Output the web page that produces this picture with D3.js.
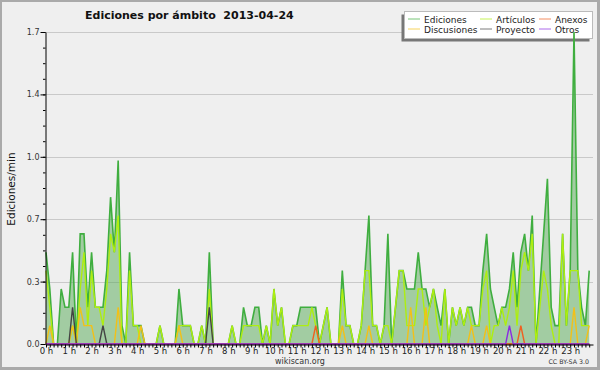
<!DOCTYPE html>
<html>
<head>
<meta charset="utf-8" />
<style>
  body { margin: 0; background: #efefef; }
  svg { display: block; }
  text { font-family: "DejaVu Sans", sans-serif; }
</style>
</head>
<body>
<svg id="chart" width="600" height="370"></svg>
<script src="https://cdn.jsdelivr.net/npm/d3@7"></script>
<script>
// edits per minute, one value per 10-minute slot (144 slots, 12 per row = 2 hours)
var ediciones = [
  0.5,0.3,0,0,0.3,0.2,0.2,0.5,0,0.6,0.6,0.2,
  0.5,0.2,0.2,0.2,0.4,0.8,0.5,1.0,0.1,0,0.5,0.1,
  0.1,0.1,0,0,0,0,0.1,0,0,0,0,0.3,
  0.1,0.1,0.1,0,0,0.1,0,0.5,0,0,0,0,
  0,0.1,0,0,0.2,0.1,0.1,0.2,0.2,0,0.1,0,
  0.3,0.1,0.2,0,0,0.1,0.1,0.2,0.2,0.2,0.2,0.2,
  0,0.1,0.2,0,0,0,0.4,0.1,0.1,0,0,0.1,
  0.4,0.7,0.1,0.1,0,0.1,0.6,0,0.2,0.4,0.4,0.3,
  0.3,0.3,0.5,0.3,0.3,0.2,0.3,0.2,0.1,0.3,0,0.2,
  0.1,0.2,0.1,0.2,0.2,0.1,0.1,0.4,0.6,0.3,0.2,0.1,
  0.2,0.2,0.3,0.5,0.2,0.5,0.6,0.4,0.7,0,0.3,0.6,
  0.9,0.2,0.1,0.1,0.6,0.1,0.4,1.7,0.4,0.2,0.1,0.4
];
var articulos = [
  0.4,0.2,0,0,0,0,0,0.1,0,0.3,0.5,0.1,
  0.4,0.2,0.2,0.1,0.3,0.6,0.5,0.7,0,0,0.4,0.1,
  0.1,0,0,0,0,0,0.1,0,0,0,0,0.1,
  0.1,0.1,0.1,0,0,0.1,0,0.3,0,0,0,0,
  0,0.1,0,0,0.1,0.1,0.1,0.1,0.1,0,0.1,0,
  0.3,0.1,0.2,0,0,0.1,0.1,0.1,0.1,0.1,0.2,0.1,
  0,0.1,0.2,0,0,0,0.3,0.1,0.1,0,0,0.1,
  0.4,0.4,0.1,0.1,0,0.1,0.1,0,0.2,0.4,0.4,0.1,
  0.1,0.1,0.3,0.3,0.1,0.2,0.3,0.1,0,0.3,0,0.2,
  0.1,0.2,0.1,0.2,0.1,0.1,0.1,0.3,0.4,0,0.1,0.1,
  0.2,0.1,0.2,0.4,0.1,0.4,0.5,0.4,0.6,0,0.2,0.4,
  0.3,0.1,0,0,0.6,0.1,0.4,0.4,0.4,0.1,0.1,0.1
];
var discusiones = [
  0,0.1,0,0,0,0,0,0.1,0,0.2,0.1,0.1,
  0.1,0,0,0,0,0,0,0.2,0,0,0,0,
  0,0.1,0,0,0,0,0,0,0,0,0,0.1,
  0,0,0,0,0,0,0,0,0,0,0,0,
  0,0,0,0,0,0,0,0,0,0,0,0,
  0,0,0,0,0,0,0,0,0,0,0,0,
  0,0,0,0,0,0,0.1,0,0,0,0,0,
  0,0.1,0,0,0,0,0,0,0,0,0,0,
  0.2,0,0,0,0.2,0,0,0,0,0,0,0,
  0,0,0,0,0.1,0,0,0,0.1,0,0,0,
  0,0,0,0,0,0,0,0,0,0,0,0,
  0,0,0,0,0,0,0,0.2,0,0,0,0.1
];
var proyecto = [
  0,0,0,0,0,0,0,0.2,0,0,0,0,
  0,0,0,0.1,0,0,0,0,0,0,0,0,
  0,0,0,0,0,0,0,0,0,0,0,0,
  0,0,0,0,0,0,0,0.2,0,0,0,0,
  0,0,0,0,0,0,0,0,0,0,0,0,
  0,0,0,0,0,0,0,0,0,0,0,0,
  0,0,0,0,0,0,0,0,0,0,0,0,
  0,0,0,0,0,0,0,0,0,0,0,0,
  0,0,0,0,0,0,0,0,0,0,0,0,
  0,0,0,0,0,0,0,0,0,0,0,0,
  0,0,0,0,0,0,0,0,0,0,0,0,
  0,0,0,0,0,0,0,0,0,0,0,0
];
var anexos = [
  0,0,0,0,0,0,0,0,0,0,0,0,
  0,0,0,0,0,0,0,0,0,0,0,0,
  0,0,0,0,0,0,0,0,0,0,0,0,
  0,0,0,0,0,0,0,0,0,0,0,0,
  0,0,0,0,0,0,0,0,0,0,0,0,
  0,0,0,0,0,0,0,0,0,0,0,0.1,
  0,0,0,0,0,0,0,0,0,0,0,0,
  0,0,0,0,0,0,0,0,0,0,0,0,
  0,0,0,0,0,0,0,0,0,0,0,0,
  0,0,0,0,0,0,0,0,0,0,0,0,
  0,0,0,0,0,0.1,0,0,0,0,0,0,
  0,0,0,0,0,0,0,0,0,0,0,0
];
var otros = [
  0,0,0,0,0,0,0,0,0,0,0,0,
  0,0,0,0,0,0,0,0,0,0,0,0,
  0,0,0,0,0,0,0,0,0,0,0,0,
  0,0,0,0,0,0,0,0,0,0,0,0,
  0,0,0,0,0,0,0,0,0,0,0,0,
  0,0,0,0,0,0,0,0,0,0,0,0,
  0,0,0,0,0,0,0,0,0,0,0,0,
  0,0,0,0,0,0,0,0,0,0,0,0,
  0,0,0,0,0,0,0,0,0,0,0,0,
  0,0,0,0,0,0,0,0,0,0,0,0,
  0,0,0.1,0,0,0,0,0,0,0,0,0,
  0,0,0,0,0,0,0,0,0,0,0,0
];
var hourLabels = ['0 h','1 h','2 h','3 h','4 h','5 h','6 h','7 h','8 h','9 h','10 h','11 h',
                  '12 h','13 h','14 h','15 h','16 h','17 h','18 h','19 h','20 h','21 h','22 h','23 h'];

var series = [
  {name: 'Ediciones',   values: ediciones,   color: '#3fae3f'},
  {name: 'Artículos',   values: articulos,   color: '#aeee10'},
  {name: 'Anexos',      values: anexos,      color: '#f06020'},
  {name: 'Discusiones', values: discusiones, color: '#f2c018'},
  {name: 'Proyecto',    values: proyecto,    color: '#444444'},
  {name: 'Otros',       values: otros,       color: '#8a2be2'}
];

var svg = d3.select('#chart');

// frame
svg.append('rect').attr('width', 600).attr('height', 370).attr('fill', '#aaaaaa');
svg.append('rect').attr('x', 2).attr('y', 2).attr('width', 595).attr('height', 365).attr('fill', '#efefef');

var x = d3.scaleLinear().domain([0, 1440]).range([46, 593]);
var yMax = d3.max(ediciones);
var y = d3.scaleLinear().domain([0, yMax]).range([344, 32]);

var major = d3.range(6).map(function(k){ return yMax * k / 5; });
var minor = d3.range(21).map(function(k){ return yMax * k / 20; });

// grid
svg.append('g').selectAll('line')
  .data(major.slice(1))
  .enter().append('line')
  .attr('x1', 45).attr('x2', 593)
  .attr('y1', function(d){ return Math.round(y(d)) + 0.5; })
  .attr('y2', function(d){ return Math.round(y(d)) + 0.5; })
  .attr('stroke', '#c9c9c9');

// legend (drawn below the data, the 23 h peak crosses it)
var leg = svg.append('g');
leg.append('rect').attr('x', 401.5).attr('y', 14.5).attr('width', 188).attr('height', 27).attr('fill', '#777');
leg.append('rect').attr('x', 404.5).attr('y', 11.5).attr('width', 188).attr('height', 27)
  .attr('fill', '#fff').attr('stroke', '#bbb');
var legCols = [408, 480, 539];
series.forEach(function(s, i){
  var cx = legCols[i % 3], cy = i < 3 ? 19 : 29;
  leg.append('line').attr('x1', cx).attr('x2', cx + 12).attr('y1', cy).attr('y2', cy)
    .attr('stroke', s.color).attr('stroke-width', 1).attr('stroke-opacity', 0.7);
  leg.append('text').attr('x', cx + 16).attr('y', cy + 3.5)
    .attr('font-size', 9).attr('fill', '#222').text(s.name);
});

// data
var area = d3.area()
  .x(function(d, i){ return x(i * 10); })
  .y0(y(0))
  .y1(function(d){ return y(d); });
var line = d3.line()
  .x(function(d, i){ return x(i * 10); })
  .y(function(d){ return y(d); });

svg.append('path').datum(ediciones).attr('d', area)
  .attr('fill', 'rgb(85,170,85)').attr('fill-opacity', 0.5);

var drawOrder = [0, 1, 3, 4, 2, 5];
drawOrder.forEach(function(k){
  var s = series[k];
  svg.append('path').datum(s.values).attr('d', line)
    .attr('fill', 'none').attr('stroke', s.color)
    .attr('stroke-width', k == 0 ? 1.6 : 1.4)
    .attr('stroke-linejoin', 'miter');
});

// axes
var yAxis = svg.append('g').attr('transform', 'translate(45.5,0)')
  .call(d3.axisLeft(y).tickValues(major).tickFormat(d3.format('.1f'))
    .tickSize(5).tickPadding(1).tickSizeOuter(0));
yAxis.attr('font-family', 'DejaVu Sans').attr('font-size', 8);
yAxis.selectAll('text').attr('fill', '#333');

svg.append('g').attr('transform', 'translate(45.5,0)')
  .call(d3.axisLeft(y).tickValues(minor).tickFormat('').tickSize(2.5))
  .select('.domain').remove();

svg.append('g').attr('transform', 'translate(0,344.5)')
  .call(d3.axisBottom(x).tickValues(d3.range(0, 1440, 10)).tickFormat('').tickSize(3).tickSizeOuter(0));

var xLabels = svg.append('g').attr('transform', 'translate(0,344.5)')
  .call(d3.axisBottom(x).tickValues(d3.range(0, 1440, 60))
    .tickFormat(function(d, i){ return hourLabels[i]; })
    .tickSize(0).tickPadding(3.2));
xLabels.select('.domain').remove();
xLabels.attr('font-family', 'DejaVu Sans').attr('font-size', 8.5);
xLabels.selectAll('text').attr('fill', '#222');

// texts
svg.append('text').attr('x', 85).attr('y', 18.5)
  .attr('font-size', 11).attr('font-weight', 'bold').attr('fill', '#111')
  .style('white-space', 'pre')
  .text('Ediciones por ámbito  2013-04-24');

svg.append('text').attr('transform', 'translate(15,189) rotate(-90)')
  .attr('text-anchor', 'middle').attr('font-size', 10.5).attr('fill', '#111')
  .text('Ediciones/min');

svg.append('text').attr('x', 300).attr('y', 363.5).attr('text-anchor', 'middle')
  .attr('font-size', 8).attr('fill', '#333').text('wikiscan.org');

svg.append('text').attr('x', 589).attr('y', 364).attr('text-anchor', 'end')
  .attr('font-size', 6.3).attr('fill', '#333').text('CC BY-SA 3.0');
</script>
</body>
</html>
